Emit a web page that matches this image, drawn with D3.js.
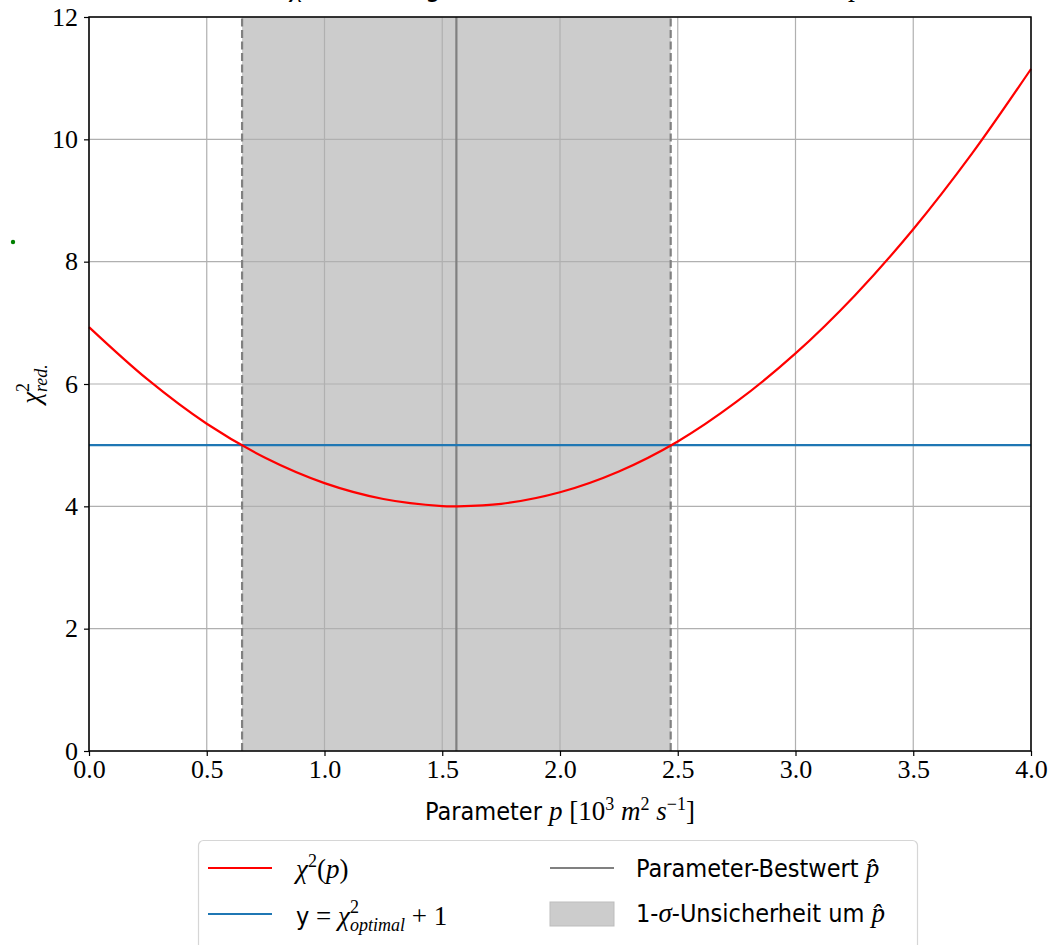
<!DOCTYPE html>
<html>
<head>
<meta charset="utf-8">
<script src="https://cdn.jsdelivr.net/npm/d3@7"></script>
<style>
body { margin: 0; background: #fff; }
svg { display: block; }
.tick text { font-family: "Liberation Serif", "DejaVu Serif", serif; font-size: 26px; fill: #000; }
</style>
</head>
<body>
<script>
// values
var pValues = [0, 0.25, 0.5, 0.75, 1.0, 1.25, 1.5, 1.56, 1.75, 2.0, 2.25, 2.5, 2.75, 3.0, 3.25, 3.5, 3.75, 4.0];
var chiValues = [6.93, 6.07, 5.35, 4.79, 4.38, 4.12, 4.004, 4.0, 4.04, 4.23, 4.57, 5.06, 5.71, 6.50, 7.44, 8.53, 9.77, 11.15];
var pBest = 1.56;
var pLow = 0.65;
var pHigh = 2.47;
var chiLimit = 5.0;
var xTicks = [0, 0.5, 1.0, 1.5, 2.0, 2.5, 3.0, 3.5, 4.0];
var yTicks = [0, 2, 4, 6, 8, 10, 12];

var w = 1053;
var h = 945;
var plotLeft = 89, plotRight = 1031, plotTop = 17, plotBottom = 751;

var serif = "'Liberation Serif', serif";
var sans = "'DejaVu Sans Condensed', 'DejaVu Sans', sans-serif";

var svg = d3.select("body")
            .append("svg")
            .attr("width", w)
            .attr("height", h);

var x = d3.scaleLinear().domain([0, 4]).range([plotLeft, plotRight]);
var y = d3.scaleLinear().domain([0, 12]).range([plotBottom, plotTop]);

// title, mostly cut off at the top of the picture
var titleY = -4;
var title = svg.append("g")
    .style("font-size", "28px");
title.append("text").attr("x", 291).attr("y", titleY)
    .style("font-family", serif).style("font-style", "italic").text("χ²");
title.append("text").attr("x", 441).attr("y", titleY).attr("text-anchor", "end")
    .style("font-family", sans).text("-Verteilung");
title.append("text").attr("x", 460).attr("y", titleY)
    .style("font-family", sans).text("über dem Parameter");
title.append("text").attr("x", 850).attr("y", titleY)
    .style("font-family", serif).style("font-style", "italic").text("p");

// 1-sigma band
svg.append("rect")
    .attr("x", x(pLow))
    .attr("y", y(12))
    .attr("width", x(pHigh) - x(pLow))
    .attr("height", y(0) - y(12))
    .style("fill", "#cccccc");

// grid
svg.selectAll("line.gx")
    .data(xTicks)
    .enter()
    .append("line")
    .attr("class", "gx")
    .attr("x1", function(d) { return x(d); })
    .attr("x2", function(d) { return x(d); })
    .attr("y1", y(0))
    .attr("y2", y(12))
    .style("stroke", "#b0b0b0")
    .style("stroke-width", 1.2);

svg.selectAll("line.gy")
    .data(yTicks)
    .enter()
    .append("line")
    .attr("class", "gy")
    .attr("x1", x(0))
    .attr("x2", x(4))
    .attr("y1", function(d) { return y(d); })
    .attr("y2", function(d) { return y(d); })
    .style("stroke", "#b0b0b0")
    .style("stroke-width", 1.2);

// band edges (dashed) and best value
svg.selectAll("line.edge")
    .data([pLow, pHigh])
    .enter()
    .append("line")
    .attr("class", "edge")
    .attr("x1", function(d) { return x(d); })
    .attr("x2", function(d) { return x(d); })
    .attr("y1", y(0))
    .attr("y2", y(12))
    .style("stroke", "#808080")
    .style("stroke-width", 2.2)
    .style("stroke-dasharray", "8,3.5");

svg.append("line")
    .attr("x1", x(pBest))
    .attr("x2", x(pBest))
    .attr("y1", y(0))
    .attr("y2", y(12))
    .style("stroke", "#808080")
    .style("stroke-width", 2.2);

// chi2_opt + 1
svg.append("line")
    .attr("x1", x(0))
    .attr("x2", x(4))
    .attr("y1", y(chiLimit))
    .attr("y2", y(chiLimit))
    .style("stroke", "#1f77b4")
    .style("stroke-width", 2.2);

// chi2 curve
var pts = pValues.map(function(p, i) { return [p, chiValues[i]]; });
var line = d3.line()
    .x(function(d) { return x(d[0]); })
    .y(function(d) { return y(d[1]); })
    .curve(d3.curveCatmullRom);

svg.append("path")
    .datum(pts)
    .attr("d", line)
    .style("fill", "none")
    .style("stroke", "#ff0000")
    .style("stroke-width", 2.2);

// frame
svg.append("rect")
    .attr("x", plotLeft)
    .attr("y", plotTop)
    .attr("width", plotRight - plotLeft)
    .attr("height", plotBottom - plotTop)
    .style("fill", "none")
    .style("stroke", "#000")
    .style("stroke-width", 1.5);

// axes
var xAxis = svg.append("g")
    .attr("transform", "translate(0," + plotBottom + ")")
    .call(d3.axisBottom(x).tickValues(xTicks).tickFormat(d3.format(".1f")).tickSize(5).tickPadding(4));
var yAxis = svg.append("g")
    .attr("transform", "translate(" + plotLeft + ",0)")
    .call(d3.axisLeft(y).tickValues(yTicks).tickFormat(d3.format("d")).tickSize(5).tickPadding(6));
[xAxis, yAxis].forEach(function(a) {
    a.select(".domain").remove();
    a.selectAll(".tick line").style("stroke", "#000").style("stroke-width", 1.2);
});
yAxis.selectAll(".tick text").attr("dy", "0.32em");

// axis labels
var xl = svg.append("text")
    .attr("x", 560)
    .attr("y", 820)
    .attr("text-anchor", "middle")
    .style("font-family", sans)
    .style("font-size", "25px");
xl.append("tspan").text("Parameter ");
xl.append("tspan").style("font-family", serif).style("font-style", "italic").style("font-size", "27px").text("p");
xl.append("tspan").style("font-family", serif).style("font-size", "27px").text(" [10");
xl.append("tspan").style("font-family", serif).style("font-size", "18px").attr("dy", -10).text("3");
xl.append("tspan").style("font-family", serif).style("font-style", "italic").style("font-size", "27px").attr("dy", 10).text(" m");
xl.append("tspan").style("font-family", serif).style("font-size", "18px").attr("dy", -10).text("2");
xl.append("tspan").style("font-family", serif).style("font-style", "italic").style("font-size", "27px").attr("dy", 10).text(" s");
xl.append("tspan").style("font-family", serif).style("font-size", "18px").attr("dy", -10).text("−1");
xl.append("tspan").style("font-family", serif).style("font-size", "27px").attr("dy", 10).text("]");

var yl = svg.append("text")
    .attr("transform", "translate(40,384) rotate(-90)")
    .attr("text-anchor", "middle")
    .style("font-family", serif)
    .style("font-size", "27px");
yl.append("tspan").style("font-style", "italic").text("χ");
yl.append("tspan").style("font-size", "18px").attr("dy", -11).text("2");
yl.append("tspan").style("font-size", "18px").style("font-style", "italic").attr("dy", 18).attr("dx", -9).text("red.");

// stray green dot
svg.append("circle").attr("cx", 13).attr("cy", 242).attr("r", 2.2).style("fill", "#008000");

// legend
var leg = svg.append("g");
leg.append("rect")
    .attr("x", 198.5).attr("y", 840.5)
    .attr("width", 719).attr("height", 120)
    .attr("rx", 5)
    .style("fill", "#fff")
    .style("stroke", "#d6d6d6")
    .style("stroke-width", 1.2);

var legItems = [
    { col: 0, row: 0, kind: "line", color: "#ff0000" },
    { col: 0, row: 1, kind: "line", color: "#1f77b4" },
    { col: 1, row: 0, kind: "line", color: "#808080" },
    { col: 1, row: 1, kind: "patch", color: "#cccccc" }
];
var colX = [208, 550];
var rowY = [868, 914];
legItems.forEach(function(d) {
    if (d.kind == "line") {
        leg.append("line")
            .attr("x1", colX[d.col]).attr("x2", colX[d.col] + 64)
            .attr("y1", rowY[d.row]).attr("y2", rowY[d.row])
            .style("stroke", d.color).style("stroke-width", 2.2);
    } else {
        leg.append("rect")
            .attr("x", colX[d.col]).attr("y", rowY[d.row] - 12)
            .attr("width", 64).attr("height", 24)
            .style("fill", d.color).style("stroke", "#bdbdbd");
    }
});

var t1 = leg.append("text").attr("x", 296).attr("y", 878).style("font-family", serif).style("font-size", "27px");
t1.append("tspan").style("font-style", "italic").text("χ");
t1.append("tspan").style("font-size", "18px").attr("dy", -11).text("2");
t1.append("tspan").attr("dy", 11).text("(");
t1.append("tspan").style("font-style", "italic").text("p");
t1.append("tspan").text(")");

var t2 = leg.append("text").attr("x", 296).attr("y", 925).style("font-family", serif).style("font-size", "27px");
t2.append("tspan").style("font-family", sans).style("font-size", "25px").text("y");
t2.append("tspan").text(" = ");
t2.append("tspan").style("font-style", "italic").text("χ");
t2.append("tspan").style("font-size", "18px").attr("dy", -12).text("2");
t2.append("tspan").style("font-size", "18px").style("font-style", "italic").attr("dy", 18).attr("dx", -9).text("optimal");
t2.append("tspan").attr("dy", -6).text(" + 1");

var t3 = leg.append("text").attr("x", 636).attr("y", 877).style("font-family", sans).style("font-size", "25px");
t3.append("tspan").text("Parameter-Bestwert ");
t3.append("tspan").style("font-family", serif).style("font-style", "italic").style("font-size", "27px").text("p̂");

var t4 = leg.append("text").attr("x", 636).attr("y", 922).style("font-family", sans).style("font-size", "25px");
t4.append("tspan").text("1-");
t4.append("tspan").style("font-family", serif).style("font-style", "italic").style("font-size", "27px").text("σ");
t4.append("tspan").text("-Unsicherheit um ");
t4.append("tspan").style("font-family", serif).style("font-style", "italic").style("font-size", "27px").text("p̂");
</script>
</body>
</html>
